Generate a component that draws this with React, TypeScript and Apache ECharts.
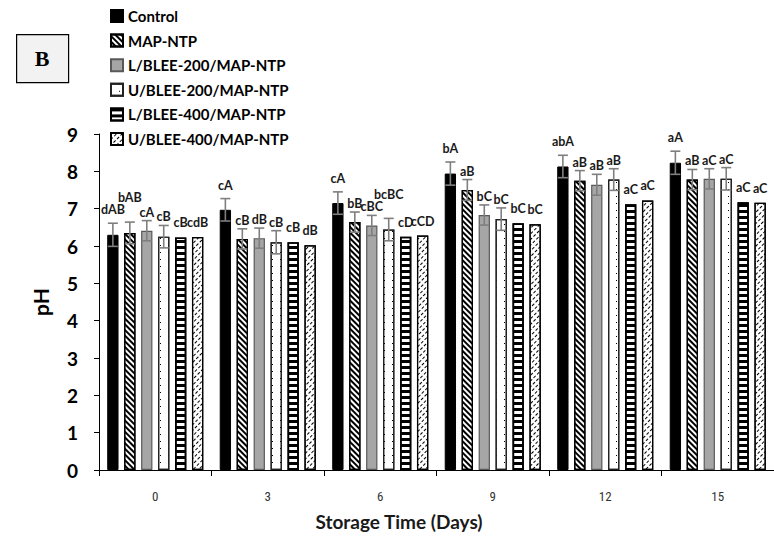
import React, { useEffect, useRef } from "react";
import * as echarts from "echarts";

const categories = ["0", "3", "6", "9", "12", "15"];
const seriesNames = [
  "Control",
  "MAP-NTP",
  "L/BLEE-200/MAP-NTP",
  "U/BLEE-200/MAP-NTP",
  "L/BLEE-400/MAP-NTP",
  "U/BLEE-400/MAP-NTP",
];

const controlMean = [6.3, 6.97, 7.15, 7.94, 8.13, 8.23];
const controlErr = [0.31, 0.3, 0.3, 0.31, 0.3, 0.31];
const controlLetters = ["dAB", "cA", "cA", "bA", "abA", "aA"];

const mapNtpMean = [6.35, 6.19, 6.64, 7.5, 7.75, 7.78];
const mapNtpErr = [0.29, 0.27, 0.27, 0.28, 0.27, 0.27];
const mapNtpLetters = ["bAB", "cB", "bB", "aB", "aB", "aB"];

const lBlee200Mean = [6.41, 6.21, 6.55, 6.83, 7.64, 7.8];
const lBlee200Err = [0.27, 0.27, 0.27, 0.27, 0.28, 0.27];
const lBlee200Letters = ["cA", "dB", "cBC", "bC", "aB", "aC"];

const uBlee200Mean = [6.25, 6.1, 6.44, 6.72, 7.78, 7.8];
const uBlee200Err = [0.3, 0.31, 0.3, 0.3, 0.29, 0.3];
const uBlee200Letters = ["cB", "cB", "bcBC", "bC", "aB", "aC"];

const lBlee400Mean = [6.23, 6.1, 6.25, 6.61, 7.12, 7.17];
const lBlee400Err = [0, 0, 0, 0, 0, 0];
const lBlee400Letters = ["cB", "cB", "cD", "bC", "aC", "aC"];

const uBlee400Mean = [6.24, 6.02, 6.28, 6.58, 7.22, 7.16];
const uBlee400Err = [0, 0, 0, 0, 0, 0];
const uBlee400Letters = ["cdB", "dB", "cCD", "bC", "aC", "aC"];

const yTicks = [0, 1, 2, 3, 4, 5, 6, 7, 8, 9];

const means = [controlMean, mapNtpMean, lBlee200Mean, uBlee200Mean, lBlee400Mean, uBlee400Mean];
const errs = [controlErr, mapNtpErr, lBlee200Err, uBlee200Err, lBlee400Err, uBlee400Err];
const letters = [controlLetters, mapNtpLetters, lBlee200Letters, uBlee200Letters, lBlee400Letters, uBlee400Letters];

const FONT = "Lato, 'Open Sans', sans-serif";
const LABEL_SIZE = 12.5;
const BAR_W = 11.3;
const BAR_GAP = 0.5;
const PITCH = BAR_W * (1 + BAR_GAP);

const itemStyles: any[] = [
  { color: "#000", borderColor: "#000", borderWidth: 1 },
  {
    color: "#fff",
    borderColor: "#000",
    borderWidth: 1.2,
    decal: { symbol: "rect", symbolSize: 1, color: "#000", dashArrayX: [1, 0], dashArrayY: [2, 2], rotation: Math.PI / 4 },
  },
  { color: "#a6a6a6", borderColor: "#595959", borderWidth: 1.2 },
  {
    color: "#fff",
    borderColor: "#222",
    borderWidth: 1.2,
    decal: { symbol: "rect", symbolSize: 1, color: "#000", dashArrayX: [1, 7], dashArrayY: [1, 6], rotation: 0 },
  },
  {
    color: "#fff",
    borderColor: "#000",
    borderWidth: 1.6,
    decal: { symbol: "rect", symbolSize: 1, color: "#000", dashArrayX: [1, 0], dashArrayY: [3, 3], rotation: 0 },
  },
  {
    color: "#fff",
    borderColor: "#000",
    borderWidth: 1.2,
    decal: { symbol: "rect", symbolSize: 1, color: "#000", dashArrayX: [3, 2], dashArrayY: [1, 3], rotation: -Math.PI / 4 },
  },
];

function estWidth(t: string) {
  let w = 0;
  for (const ch of t) w += ch === ch.toUpperCase() ? 8 : 6.8;
  return (w * LABEL_SIZE) / 13;
}

function errSeries(si: number) {
  const m = means[si];
  const e = errs[si];
  return {
    type: "custom",
    name: "err" + si,
    z: 5,
    encode: { x: 0, y: 1 },
    data: m.map((v, i) => [i, v]),
    renderItem: (params: any, api: any) => {
      const i = params.dataIndex;
      const val = m[i];
      const er = e[i];
      if (!(er > 0)) return { type: "group", children: [] };
      const base = api.coord([i, val]);
      const x = base[0] + (si - 2.5) * PITCH;
      const top = api.coord([i, val + er])[1];
      const bot = api.coord([i, val - er])[1];
      const stroke = { stroke: "#7f7f7f", lineWidth: 1.6 };
      return {
        type: "group",
        children: [
          { type: "line", shape: { x1: x, y1: top, x2: x, y2: bot }, style: stroke },
          { type: "line", shape: { x1: x - 5, y1: top, x2: x + 5, y2: top }, style: stroke },
          { type: "line", shape: { x1: x - 5, y1: bot, x2: x + 5, y2: bot }, style: stroke },
        ],
      };
    },
  };
}

const labelSeries = {
  type: "custom",
  name: "letters",
  z: 6,
  encode: { x: 0, y: 1 },
  data: categories.map((_, i) => [i, 0]),
  renderItem: (params: any, api: any) => {
    const i = params.dataIndex;
    const placed: { cx: number; w: number; b: number }[] = [];
    const H = 12;
    const children: any[] = [];
    for (let s = 0; s < seriesNames.length; s++) {
      const val = means[s][i];
      const er = errs[s][i];
      const base = api.coord([i, val]);
      const cx = base[0] + (s - 2.5) * PITCH;
      let b = er > 0 ? api.coord([i, val + er])[1] - (s === 0 ? 9 : 4) : base[1] - 10;
      const text = letters[s][i];
      const w = estWidth(text);
      let moved = true;
      let guard = 0;
      while (moved && guard++ < 10) {
        moved = false;
        for (const p of placed) {
          const hOverlap = Math.abs(cx - p.cx) < (w + p.w) / 2 - 2;
          const vOverlap = b > p.b - H + 0.5 && b - H < p.b - 0.5;
          if (hOverlap && vOverlap) {
            b = p.b - H;
            moved = true;
          }
        }
      }
      placed.push({ cx, w, b });
      children.push({
        type: "text",
        style: {
          text,
          x: cx,
          y: b + 2,
          align: "center",
          verticalAlign: "bottom",
          fontFamily: FONT,
          fontWeight: "bold",
          fontSize: LABEL_SIZE,
          fill: "#1a1a1a",
        },
      });
    }
    return { type: "group", children };
  },
};

export default function App() {
  const ref = useRef<HTMLDivElement>(null);
  useEffect(() => {
    if (!ref.current) return;
    const chart = echarts.init(ref.current, null, { renderer: "svg" });
    const barSeries = seriesNames.map((name, si) => ({
      type: "bar",
      name,
      data: means[si],
      barWidth: BAR_W,
      barGap: BAR_GAP * 100 + "%",
      itemStyle: itemStyles[si],
      emphasis: { disabled: true },
    }));
    chart.setOption({
      animation: false,
      backgroundColor: "#fff",
      legend: {
        data: seriesNames,
        orient: "vertical",
        left: 105,
        top: 3,
        itemWidth: 12,
        itemHeight: 12,
        itemGap: 8.6,
        icon: "rect",
        textStyle: { fontFamily: FONT, fontWeight: "bold", fontSize: 15, color: "#000", lineHeight: 16 },
      },
      grid: { left: 99, top: 134, width: 677, height: 336 },
      xAxis: {
        type: "category",
        data: categories,
        axisLine: { lineStyle: { color: "#000", width: 1 } },
        axisTick: { show: true, length: 6, lineStyle: { color: "#000" } },
        axisLabel: {
          margin: 20,
          fontSize: 13,
          color: "#333",
          fontFamily: "'Liberation Sans Narrow', 'Roboto Condensed', Roboto, sans-serif",
        },
        splitLine: { show: false },
      },
      yAxis: {
        type: "value",
        min: yTicks[0],
        max: yTicks[yTicks.length - 1],
        interval: 1,
        name: "pH",
        nameLocation: "middle",
        nameGap: 48,
        nameTextStyle: { fontFamily: FONT, fontWeight: "bold", fontSize: 21, color: "#000" },
        axisLine: { show: true, lineStyle: { color: "#000", width: 1 } },
        axisTick: { show: true, length: 5, lineStyle: { color: "#000" } },
        axisLabel: { margin: 21, fontFamily: FONT, fontWeight: "bold", fontSize: 19, color: "#000" },
        splitLine: { show: false },
      },
      graphic: [
        {
          type: "rect",
          left: 16,
          top: 34,
          shape: { width: 52, height: 48 },
          style: { fill: "#f2f2f2", stroke: "#000", lineWidth: 1.2 },
        },
        {
          type: "text",
          x: 42,
          y: 58,
          style: {
            text: "B",
            align: "center",
            verticalAlign: "middle",
            fontFamily: "'Liberation Serif', serif",
            fontWeight: "bold",
            fontSize: 22,
            fill: "#000",
          },
        },
        {
          type: "text",
          x: 399,
          y: 521,
          style: {
            text: "Storage Time (Days)",
            align: "center",
            verticalAlign: "middle",
            fontFamily: FONT,
            fontWeight: "bold",
            fontSize: 19,
            fill: "#1a1a1a",
          },
        },
      ],
      series: [...barSeries, ...seriesNames.map((_, si) => errSeries(si)), labelSeries],
    });
    return () => chart.dispose();
  }, []);
  return <div ref={ref} style={{ position: "fixed", left: 0, top: 0, width: 774, height: 537 }} />;
}
